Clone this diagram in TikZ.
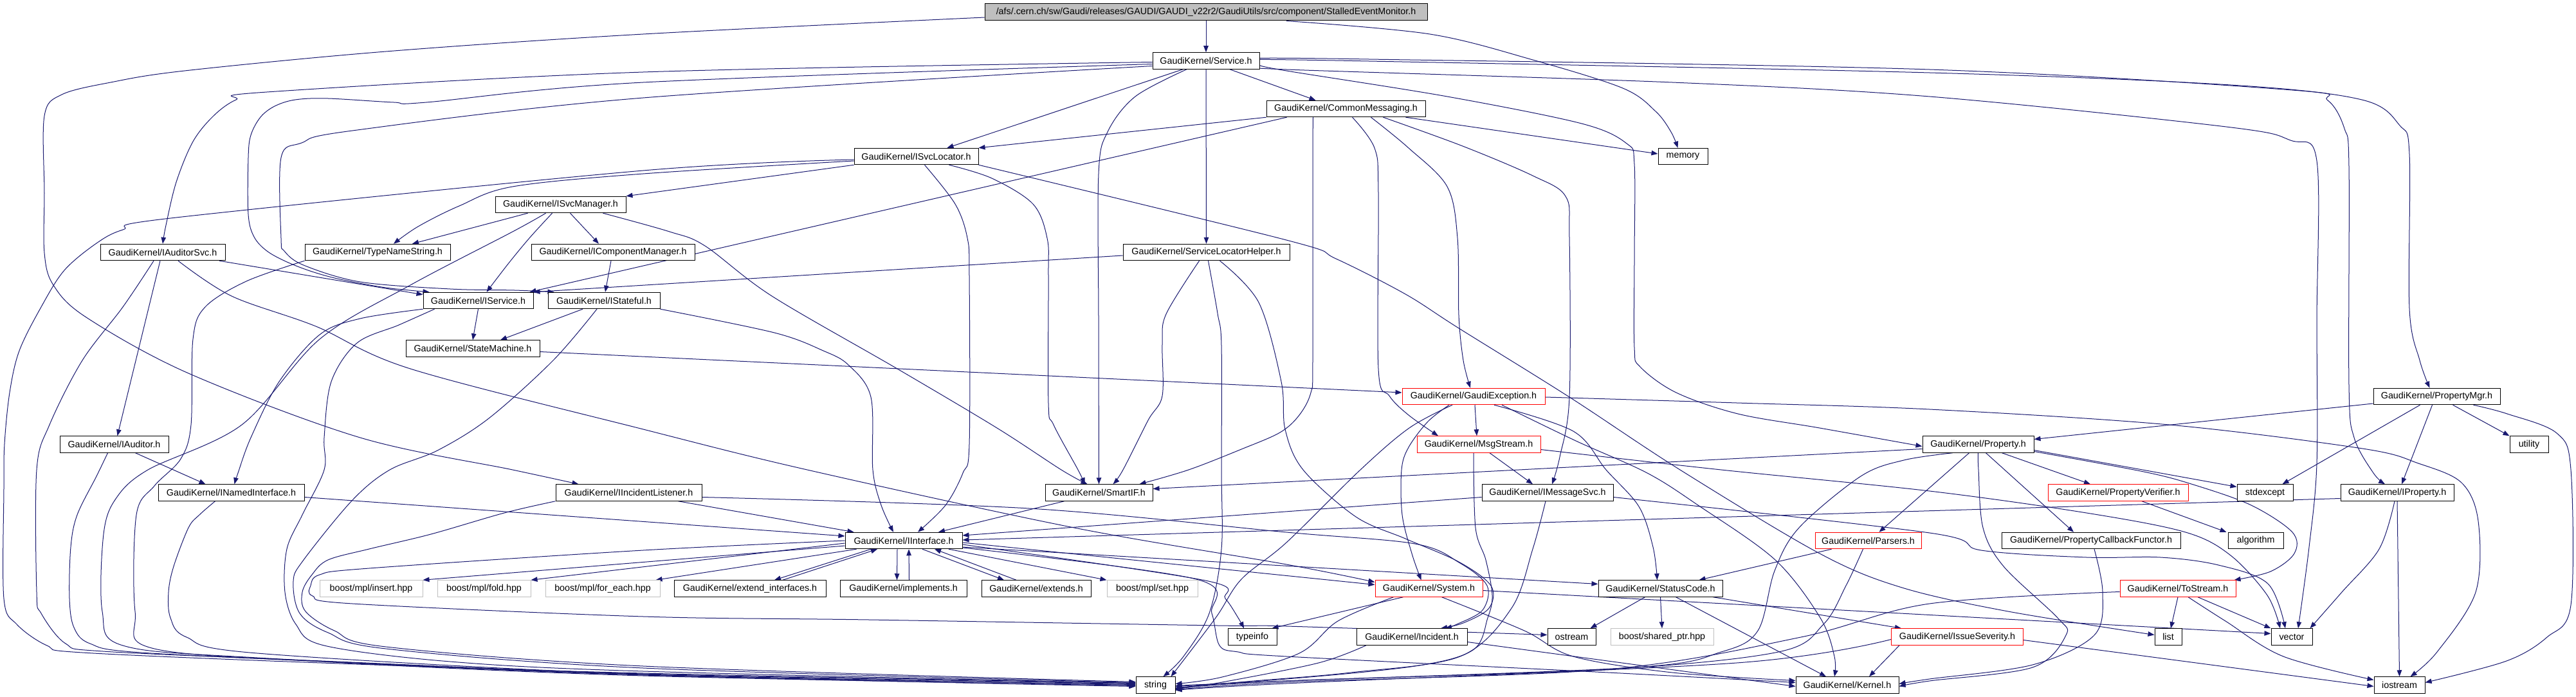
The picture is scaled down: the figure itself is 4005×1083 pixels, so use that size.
\documentclass[tikz,border=0pt]{standalone}
\usepackage{fontspec}
\setmainfont{Liberation Sans}
\usetikzlibrary{arrows.meta}
\definecolor{edgec}{HTML}{191970}
\definecolor{graybd}{HTML}{BFBFBF}
\pgfdeclarelayer{bg}
\pgfsetlayers{bg,main}
\tikzset{
 box/.style={draw=black, line width=1pt, fill=white, inner sep=0pt, minimum height=25.5pt, font=\fontsize{14.3pt}{17pt}\selectfont, text=black},
 redbox/.style={box, draw=red},
 graybox/.style={box, draw=graybd},
 rootbox/.style={box, fill=graybd},
 edge/.style={draw=edgec, line width=1pt, -{Triangle[length=10pt,width=7.5pt]}},
 curvy/.style={smooth, tension=0.55},
}
\begin{document}
\begin{tikzpicture}[x=1pt,y=-1pt]
\useasboundingbox (0,0) rectangle (4005,1083);
% nodes
\node[rootbox, minimum width=688pt, minimum height=26pt] (root) at (1875,19) {/afs/.cern.ch/sw/Gaudi/releases/GAUDI/GAUDI\_v22r2/GaudiUtils/src/component/StalledEventMonitor.h};
\node[box, minimum width=166pt] (svc) at (1875,94.5) {GaudiKernel/Service.h};
\node[box, minimum width=247pt] (cm) at (2092.5,169) {GaudiKernel/CommonMessaging.h};
\node[box, minimum width=77pt] (memory) at (2616.5,243) {memory};
\node[box, minimum width=193pt] (isl) at (1424.5,243) {GaudiKernel/ISvcLocator.h};
\node[box, minimum width=203pt] (ism) at (871.5,318) {GaudiKernel/ISvcManager.h};
\node[box, minimum width=194pt] (iasvc) at (253,392) {GaudiKernel/IAuditorSvc.h};
\node[box, minimum width=226pt] (tns) at (587,392) {GaudiKernel/TypeNameString.h};
\node[box, minimum width=254pt] (icm) at (953,392) {GaudiKernel/IComponentManager.h};
\node[box, minimum width=259pt] (slh) at (1875.5,392) {GaudiKernel/ServiceLocatorHelper.h};
\node[box, minimum width=171pt] (isvc) at (743.5,467) {GaudiKernel/IService.h};
\node[box, minimum width=174pt] (ist) at (939,467) {GaudiKernel/IStateful.h};
\node[box, minimum width=208pt] (smach) at (735,541.5) {GaudiKernel/StateMachine.h};
\node[redbox, minimum width=222pt] (gex) at (2291,616) {GaudiKernel/GaudiException.h};
\node[box, minimum width=197pt] (pmgr) at (3788.5,616) {GaudiKernel/PropertyMgr.h};
\node[box, minimum width=169pt] (iaud) at (177.5,690.5) {GaudiKernel/IAuditor.h};
\node[redbox, minimum width=192pt] (msg) at (2299,690.5) {GaudiKernel/MsgStream.h};
\node[box, minimum width=173pt] (prop) at (3075.5,690.5) {GaudiKernel/Property.h};
\node[box, minimum width=60pt] (utility) at (3932,690.5) {utility};
\node[box, minimum width=227pt] (ini) at (359.5,765.5) {GaudiKernel/INamedInterface.h};
\node[box, minimum width=227pt] (iil) at (977.5,765.5) {GaudiKernel/IIncidentListener.h};
\node[box, minimum width=167pt] (sif) at (1708.5,765.5) {GaudiKernel/SmartIF.h};
\node[box, minimum width=204pt] (ims) at (2406,765.5) {GaudiKernel/IMessageSvc.h};
\node[redbox, minimum width=218pt] (pver) at (3293,765.5) {GaudiKernel/PropertyVerifier.h};
\node[box, minimum width=87pt] (stdexcept) at (3521.5,765.5) {stdexcept};
\node[box, minimum width=176pt] (iprop) at (3727,765.5) {GaudiKernel/IProperty.h};
\node[box, minimum width=182pt] (iif) at (1405,840) {GaudiKernel/IInterface.h};
\node[redbox, minimum width=165pt] (pars) at (2904.5,840) {GaudiKernel/Parsers.h};
\node[box, minimum width=278pt] (pcf) at (3251,840) {GaudiKernel/PropertyCallbackFunctor.h};
\node[box, minimum width=86pt] (algorithm) at (3507,840) {algorithm};
\node[graybox, minimum width=160pt] (bins) at (577,914.5) {boost/mpl/insert.hpp};
\node[graybox, minimum width=145pt] (bfold) at (752.5,914.5) {boost/mpl/fold.hpp};
\node[graybox, minimum width=178pt] (bfe) at (937,914.5) {boost/mpl/for\_each.hpp};
\node[box, minimum width=236pt] (extif) at (1166,914.5) {GaudiKernel/extend\_interfaces.h};
\node[box, minimum width=197pt] (impl) at (1404.5,914.5) {GaudiKernel/implements.h};
\node[box, minimum width=170pt] (exts) at (1611,914.5) {GaudiKernel/extends.h};
\node[graybox, minimum width=141pt] (bset) at (1791.5,914.5) {boost/mpl/set.hpp};
\node[redbox, minimum width=167pt] (sys) at (2221.5,914.5) {GaudiKernel/System.h};
\node[box, minimum width=193pt] (sc) at (2581.5,914.5) {GaudiKernel/StatusCode.h};
\node[redbox, minimum width=180pt] (tos) at (3386,914.5) {GaudiKernel/ToStream.h};
\node[box, minimum width=76pt] (typeinfo) at (1947,989.5) {typeinfo};
\node[box, minimum width=172pt] (inc) at (2195,989.5) {GaudiKernel/Incident.h};
\node[box, minimum width=75pt] (ostream) at (2443.5,989.5) {ostream};
\node[graybox, minimum width=160pt] (bsp) at (2584,989.5) {boost/shared\_ptr.hpp};
\node[redbox, minimum width=205pt] (isev) at (3043,989.5) {GaudiKernel/IssueSeverity.h};
\node[box, minimum width=42pt] (list) at (3371,989.5) {list};
\node[box, minimum width=64pt] (vector) at (3563,989.5) {vector};
\node[box, minimum width=61pt] (string) at (1796.5,1064.5) {string};
\node[box, minimum width=160pt] (kernel) at (2872,1064.5) {GaudiKernel/Kernel.h};
\node[box, minimum width=79pt] (iostream) at (3730.5,1064.5) {iostream};

\begin{pgfonlayer}{bg}
% root
\draw[edge] (root) -- (svc);
\draw[edge] plot[curvy] coordinates {([xshift=125pt]root.south) (2223,53) (2383,93) (2523,137) (2574,173) (2598,205) ([xshift=-8pt]memory.north)};
\draw[edge] plot[curvy] coordinates {([yshift=-8pt]root.west) (1000,53) (600,80) (287,110) (172,128) (96,147) (69,180) (69,300) (69,393) (83,443) (134,493) (293,580) (560,680) (797,730) ([xshift=-78pt]iil.north)};
% Service
\draw[edge] ([xshift=-36pt]svc.south) -- ([xshift=48pt]isl.north);
\draw[edge] plot[curvy] coordinates {([xshift=-30pt]svc.south) (1765,150) (1722,205) (1708,270) (1708,500) (sif.north)};
\draw[edge] (svc) -- (slh);
\draw[edge] ([xshift=37pt]svc.south) -- ([xshift=-47pt]cm.north);
\draw[edge] plot[curvy] coordinates {([yshift=-2pt]svc.west) (1000,112) (415,143) (367,155) (332,180) (300,220) (274,283) (258,350) (iasvc.north)};
\draw[edge] plot[curvy] coordinates {([yshift=-5pt]svc.west) (1000,128) (663,159) (612,159) (510,153) (459,155) (427,165) (405,182) (390,210) (386,245) (386,333) (395,368) (415,390) (446,407) (485,422) (529,434) (600,447) ([xshift=10pt]isvc.north west)};
\draw[edge] plot[curvy] coordinates {([yshift=-8pt]svc.west) (1000,152) (548,203) (469,222) (437,245) (437,370) (442,390) (472,412) (560,438) (700,449) (800,451) ([xshift=10pt]ist.north west)};
\draw[edge] plot[curvy] coordinates {([yshift=-7pt]svc.east) (2000,110) (2250,150) (2459,192) (2529,223) (2541,255) (2541,400) (2541,540) (2550,570) (2606,610) (2702,643) (2829,665) ([yshift=-3pt]prop.west)};
\draw[edge] plot[curvy] coordinates {([yshift=-9pt]svc.east) (2000,108) (2600,128) (3000,150) (3461,197) (3561,218) (3602,250) (3602,500) (3602,720) (3590,850) ([xshift=10pt]vector.north)};
\draw[edge] plot[curvy] coordinates {([yshift=4pt]svc.east) (2128,92) (3000,108) (3564,140) (3619,156) (3645,200) (3652,260) (3652,600) (3660,680) (3690,735) ([xshift=-19pt]iprop.north)};
\draw[edge] plot[curvy] coordinates {([yshift=2pt]svc.east) (2128,95) (3000,113) (3468,132) (3672,155) (3731,195) (3746,240) (3746,480) (3762,560) ([xshift=-11pt]pmgr.north)};
% CommonMessaging
\draw[edge] (cm.south west) -- (isl.north east);
\draw[edge] ([xshift=-92pt]cm.south) -- ([xshift=-6pt]isvc.north east);
\draw[edge] plot[curvy] coordinates {([xshift=-51pt]cm.south) (2041,250) (2041,560) (2038,610) (2020,645) (1990,672) (1930,698) (1848,730) ([xshift=63pt]sif.north)};
\draw[edge] plot[curvy] coordinates {([xshift=10pt]cm.south) (2137,230) (2143,300) (2143,573) (2160,615) (2190,645) ([xshift=-63pt]msg.north)};
\draw[edge] plot[curvy] coordinates {([xshift=39pt]cm.south) (2190,230) (2250,290) (2266,370) (2268,490) (2275,560) ([xshift=-5pt]gex.north)};
\draw[edge] plot[curvy] coordinates {([xshift=58pt]cm.south) (2274,227) (2383,273) (2434,305) (2440,370) (2440,617) (2425,710) ([xshift=7pt]ims.north)};
\draw[edge] ([xshift=93pt]cm.south) -- ([yshift=4pt]memory.west);
% ISvcLocator
\draw[edge] (isl.south west) -- (ism.north east);
\draw[edge] plot[curvy] coordinates {([yshift=-7pt]isl.west) (1000,270) (797,290) (714,320) (650,352) ([xshift=25pt]tns.north)};
\draw[edge] plot[curvy] coordinates {([yshift=-5pt]isl.west) (1000,265) (274,338) (191,357) (150,378) (100,420) (64,477) (30,545) (15,610) (7,690) (6,760) (6,930) (26,970) (73,1003) (128,1014) (500,1030) (1000,1046) ([yshift=3pt]string.west)};
\draw[edge] plot[curvy] coordinates {([xshift=13pt]isl.south) (1485,317) (1504,370) (1507,430) (1507,690) (1497,735) (1470,785) ([xshift=22pt]iif.north)};
\draw[edge] plot[curvy] coordinates {([xshift=51pt]isl.south) (1542,277) (1606,317) (1628,370) (1630,430) (1630,627) (1638,660) (1676,730) ([xshift=-22pt]sif.north)};
\draw[edge] plot[curvy] coordinates {(isl.south east) (2000,373) (2077,402) (2185,457) (2268,510) (2440,617) (2612,730) (2829,860) (2957,913) (3122,950) ([yshift=3pt]list.west)};
% ISvcManager
\draw[edge] ([xshift=-51pt]ism.south) -- ([xshift=54pt]tns.north);
\draw[edge] plot[curvy] coordinates {([xshift=-23pt]ism.south) (797,360) (638,443) (497,527) (376,660) (230,730) (180,775) (161,830) (159,950) (191,1003) (400,1022) (1000,1049) ([yshift=1pt]string.west)};
\draw[edge] plot[curvy] coordinates {([xshift=-13pt]ism.south) (823,370) (790,410) ([xshift=13pt]isvc.north)};
\draw[edge] ([xshift=15pt]ism.south) -- ([xshift=-22pt]icm.north);
\draw[edge] plot[curvy] coordinates {([xshift=66pt]ism.south) (1041,360) (1096,382) (1200,460) (1395,573) (1550,665) (1650,730) ([xshift=-18pt]sif.north)};
% IAuditorSvc
\draw[edge] ([xshift=88pt]iasvc.south) -- ([yshift=-4pt]isvc.north west);
\draw[edge] ([xshift=-4pt]iasvc.south) -- ([xshift=5pt]iaud.north);
\draw[edge] plot[curvy] coordinates {([xshift=-14pt]iasvc.south) (191,477) (128,560) (77,660) (57,730) (57,920) (64,953) (102,1000) (160,1012) (500,1027) (1000,1047) ([yshift=2pt]string.west)};
\draw[edge] plot[curvy] coordinates {([xshift=24pt]iasvc.south) (360,460) (491,507) (638,573) (1000,667) (1255,730) (1670,820) (2000,877) ([yshift=10pt]sys.west)};
% IAuditor
\draw[edge] ([xshift=33pt]iaud.south) -- ([xshift=-40pt]ini.north);
\draw[edge] plot[curvy] coordinates {([xshift=-10pt]iaud.south) (150,740) (120,800) (110,850) (108,930) (115,975) (140,1000) (220,1014) (600,1032) (1000,1048) (string.west)};
% TypeNameString
\draw[edge] plot[curvy] coordinates {(tns.south west) (383,437) (319,477) (300,527) (297,660) (281,713) (240,755) (212,800) (210,950) (236,1007) (500,1028) (1000,1050) ([yshift=-1pt]string.west)};
% IComponentManager
\draw[edge] ([xshift=-3pt]icm.south) -- ([xshift=2pt]ist.north);
% ServiceLocatorHelper
\draw[edge] ([yshift=-5pt]slh.west) -- (isvc.north east);
\draw[edge] plot[curvy] coordinates {([xshift=-11pt]slh.south) (1813,488) (1807,535) (1807,615) (1785,653) (1746,730) ([xshift=22pt]sif.north)};
\draw[edge] plot[curvy] coordinates {([xshift=3pt]slh.south) (1893,487) (1899,537) (1899,730) (1899,853) (1880,953) (1840,1020) ([xshift=12pt]string.north)};
\draw[edge] plot[curvy] coordinates {([xshift=21pt]slh.south) (1957,470) (1992,593) (1998,667) (2026,730) (2108,803) (2185,837) (2268,873) (2318,910) (2315,945) (2275,968) ([xshift=45pt]inc.north)};
% IService
\draw[edge] (isvc.south) -- (smach.north);
\draw[edge] plot[curvy] coordinates {(isvc.south west) (560,495) (497,520) (434,593) (390,680) (370,735) ([xshift=5pt]ini.north)};
\draw[edge] plot[curvy] coordinates {([xshift=-68pt]isvc.south) (620,505) (555,533) (515,593) (504,680) (504,730) (470,800) (446,853) (443,920) (460,970) (504,1003) (700,1028) (1000,1043) ([yshift=3pt]string.west)};
% IStateful
\draw[edge] ([xshift=-33pt]ist.south) -- ([xshift=43pt]smach.north);
\draw[edge] plot[curvy] coordinates {(ist.south east) (1204,517) (1280,545) (1319,567) (1354,617) (1357,730) (1370,785) ([xshift=-16pt]iif.north)};
\draw[edge] plot[curvy] coordinates {([xshift=-11pt]ist.south) (860,560) (760,650) (680,700) (606,730) (548,777) (472,870) (456,903) (466,953) (510,983) (600,1008) (1000,1038) ([yshift=4pt]string.west)};
% StateMachine
\draw[edge] ([yshift=-5pt]smach.east) -- ([yshift=6pt]gex.west);
% GaudiException
\draw[edge] ([xshift=2pt]gex.south) -- ([xshift=-3pt]msg.north);
\draw[edge] plot[curvy] coordinates {([xshift=-38pt]gex.south) (2220,655) (2190,695) (2179,730) (2180,800) (2195,860) ([xshift=-12pt]sys.north)};
\draw[edge] plot[curvy] coordinates {([xshift=-33pt]gex.south) (2191,665) (2115,730) (2000,843) (1930,900) (1890,960) ([xshift=24pt]string.north)};
\draw[edge] plot[curvy] coordinates {([xshift=32pt]gex.south) (2446,670) (2497,730) (2548,787) (2570,850) ([xshift=-5pt]sc.north)};
\draw[edge] plot[curvy] coordinates {([xshift=44pt]gex.south) (2450,685) (2561,735) (2640,785) (2760,870) (2830,960) (2852,1020) ([xshift=-20pt]kernel.north)};
\draw[edge] plot[curvy] coordinates {([yshift=-1pt]gex.east) (2700,626) (3000,636) (3372,660) (3673,697) (3760,720) (3827,750) (3853,810) (3849,920) (3789,1013) ([xshift=17pt]iostream.north)};
% MsgStream
\draw[edge] ([xshift=17pt]msg.south) -- ([xshift=-23pt]ims.north);
\draw[edge] plot[curvy] coordinates {([yshift=-8pt]msg.east) (2676,730) (3000,763) (3244,797) (3398,827) (3468,863) (3525,925) ([xshift=-18pt]vector.north)};
\draw[edge] plot[curvy] coordinates {([xshift=-8pt]msg.south) (2294,820) (2310,870) (2320,925) (2313,960) (2290,1010) (2200,1035) (2000,1055) ([yshift=-2pt]string.east)};
% IMessageSvc
\draw[edge] ([yshift=-7pt]ims.west) -- ([yshift=8pt]iif.east);
\draw[edge] plot[curvy] coordinates {([xshift=-3pt]ims.south) (2383,853) (2350,945) (2270,1020) (2100,1045) (1950,1058) ([yshift=-4pt]string.east)};
\draw[edge] plot[curvy] coordinates {([yshift=-7pt]ims.east) (3000,828) (3080,855) (3244,866) (3359,866) (3449,878) (3526,907) ([xshift=-10pt]vector.north)};
% IInterface
\draw[edge] ([yshift=-8pt]iif.west) -- (bins.north east);
\draw[edge] ([yshift=-4pt]iif.west) -- (bfold.north east);
\draw[edge] ([xshift=18pt]iif.south west) -- ([xshift=-7pt]bfe.north east);
\draw[edge] plot[curvy] coordinates {(iif.west) (1000,855) (574,883) (497,893) (483,910) (486,926) (548,938) (1000,958) (1351,963) (1893,972) (2000,973) ([yshift=3pt]ostream.west)};
\draw[edge] ([xshift=-51pt]iif.south) -- ([xshift=38pt]extif.north);
\draw[edge] ([xshift=51pt]extif.north) -- ([xshift=-41pt]iif.south);
\draw[edge] ([xshift=-10pt]iif.south) -- ([xshift=-10pt]impl.north);
\draw[edge] ([xshift=9pt]impl.north) -- ([xshift=8pt]iif.south);
\draw[edge] ([xshift=29pt]iif.south) -- ([xshift=-50pt]exts.north);
\draw[edge] ([xshift=-31pt]exts.north) -- ([xshift=48pt]iif.south);
\draw[edge] ([xshift=70pt]iif.south) -- (bset.north west);
\draw[edge] plot[curvy] coordinates {([yshift=-6pt]iif.east) (1874,902) (1905,930) (1925,960) ([xshift=-13pt]typeinfo.north)};
\draw[edge] ([yshift=-3pt]iif.east) -- ([yshift=6pt]sys.west);
\draw[edge] ([yshift=-10pt]iif.east) -- ([yshift=7pt]sc.west);
\draw[edge] plot[curvy] coordinates {([yshift=-11pt]iif.east) (1860,900) (1884,953) (1896,1003) (1925,1013) (2000,1020) (2500,1045) ([yshift=4pt]kernel.west)};
% into IInterface
\draw[edge] ([yshift=-7pt]ini.east) -- ([yshift=7pt]iif.west);
\draw[edge] ([xshift=77pt]iil.south) -- ([xshift=14pt]iif.north west);
\draw[edge] ([xshift=-54pt]sif.south) -- ([xshift=54pt]iif.north);
\draw[edge] ([yshift=-9pt]iprop.west) -- ([yshift=1pt]iif.east);
% INamedInterface
\draw[edge] plot[curvy] coordinates {([xshift=-25pt]ini.south) (310,800) (293,820) (270,880) (262,920) (265,960) (290,990) (400,1015) (1000,1048) ([yshift=-2pt]string.west)};
% IIncidentListener
\draw[edge] plot[curvy] coordinates {(iil.south west) (784,797) (670,830) (574,853) (510,870) (485,893) (470,920) (475,950) (520,980) (600,1005) (1000,1035) ([yshift=5pt]string.west)};
\draw[edge] plot[curvy] coordinates {([yshift=-7pt]iil.east) (1600,790) (2000,827) (2200,845) (2270,875) (2312,910) (2305,948) (2265,970) ([xshift=52pt]inc.north)};
% System
\draw[edge] plot[curvy] coordinates {([xshift=20pt]sys.south) (2370,980) (2446,1020) (2600,1045) ([yshift=7pt]kernel.west)};
\draw[edge] ([xshift=-40pt]sys.south) -- ([xshift=-8pt]typeinfo.north east);
\draw[edge] plot[curvy] coordinates {([xshift=-55pt]sys.south) (2080,965) (2020,1015) (1900,1052) ([yshift=2pt]string.east)};
\draw[edge] ([yshift=-3pt]sys.east) -- ([yshift=5pt]vector.west);
% StatusCode
\draw[edge] ([xshift=-24pt]sc.south) -- ([xshift=29pt]ostream.north);
\draw[edge] (sc.south) -- (bsp.north);
\draw[edge] ([xshift=24pt]sc.south) -- ([xshift=-33pt]kernel.north);
\draw[edge] ([xshift=82pt]sc.south) -- ([xshift=16pt]isev.north west);
% Incident
\draw[edge] plot[curvy] coordinates {([xshift=-71pt]inc.south) (2050,1030) (1900,1060) ([yshift=-6pt]string.east)};
\draw[edge] ([yshift=-8pt]inc.east) -- ([yshift=-2pt]kernel.west);
% Parsers
\draw[edge] ([xshift=-57pt]pars.south) -- ([xshift=-37pt]sc.north east);
\draw[edge] plot[curvy] coordinates {([xshift=-8pt]pars.south) (2870,910) (2835,970) (2765,1013) (2500,1040) (2000,1058) ([yshift=-5pt]string.east)};
% ToStream
\draw[edge] (tos.south) -- ([xshift=4pt]list.north);
\draw[edge] ([xshift=31pt]tos.south) -- (vector.north west);
\draw[edge] plot[curvy] coordinates {([xshift=16pt]tos.south) (3460,965) (3550,1020) ([yshift=8pt]iostream.west)};
\draw[edge] plot[curvy] coordinates {([yshift=-5pt]tos.west) (3000,938) (2800,990) (2500,1040) (2000,1060) ([yshift=-7pt]string.east)};
% IssueSeverity
\draw[edge] ([yshift=-5pt]isev.east) -- ([yshift=-2pt]iostream.west);
\draw[edge] plot[curvy] coordinates {([yshift=-4pt]isev.west) (2700,1030) (2000,1062) ([yshift=-8pt]string.east)};
\draw[edge] ([xshift=-90pt]isev.south) -- ([xshift=34pt]kernel.north);
% PropertyMgr
\draw[edge] ([yshift=-11pt]pmgr.west) -- ([yshift=8pt]prop.east);
\draw[edge] ([xshift=-26pt]pmgr.south) -- ([xshift=27pt]stdexcept.north);
\draw[edge] ([xshift=-7pt]pmgr.south) -- ([xshift=7pt]iprop.north);
\draw[edge] ([xshift=25pt]pmgr.south) -- (utility.north west);
\draw[edge] plot[curvy] coordinates {([xshift=57pt]pmgr.south) (3898,643) (3975,673) (3997,730) (3997,940) (3960,990) (3897,1027) ([yshift=4pt]iostream.east)};
% Property
\draw[edge] ([yshift=-7pt]prop.west) -- ([yshift=6pt]sif.east);
\draw[edge] plot[curvy] coordinates {([xshift=-40pt]prop.south) (2960,715) (2893,740) (2797,820) (2759,887) (2733,980) (2676,1013) (2542,1037) (2000,1058) ([yshift=-1pt]string.east)};
\draw[edge] ([xshift=-14pt]prop.south) -- ([xshift=17pt]pars.north);
\draw[edge] plot[curvy] coordinates {(prop.south) (3076,730) (3083,820) (3115,880) (3199,960) (3212,987) (3160,1037) (3000,1058) ([yshift=-2pt]kernel.east)};
\draw[edge] ([xshift=12pt]prop.south) -- ([xshift=-27pt]pcf.north);
\draw[edge] ([xshift=37pt]prop.south) -- ([xshift=-43pt]pver.north);
\draw[edge] ([yshift=-9pt]prop.east) -- ([yshift=9pt]stdexcept.west);
\draw[edge] plot[curvy] coordinates {([yshift=-11pt]prop.east) (3333,733) (3410,753) (3500,785) (3564,827) (3567,860) (3530,888) ([xshift=-3pt]tos.north east)};
% IProperty
\draw[edge] plot[curvy] coordinates {([xshift=-4pt]iprop.south) (3699,853) (3641,920) ([xshift=-4pt]vector.north east)};
\draw[edge] (iprop.south) -- (iostream.north);
% PropertyVerifier, PCF
\draw[edge] ([xshift=37pt]pver.south) -- ([xshift=-2pt]algorithm.north west);
\draw[edge] plot[curvy] coordinates {([xshift=5pt]pcf.south) (3269,920) (3256,987) (3160,1033) (3000,1055) ([yshift=2pt]kernel.east)};
\end{pgfonlayer}
\end{tikzpicture}
\end{document}
